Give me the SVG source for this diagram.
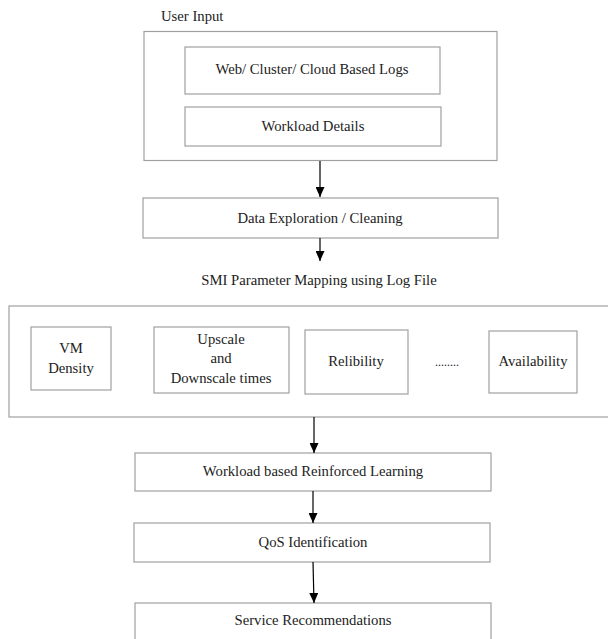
<svg xmlns="http://www.w3.org/2000/svg" width="608" height="639" viewBox="0 0 608 639">
<style>
  .box { fill: #ffffff; stroke: #a0a0a0; stroke-width: 1.2; }
  .t { font-family: 'Liberation Serif', 'DejaVu Serif', 'Times New Roman', serif; font-size: 14.7px; fill: #222222; text-anchor: middle; }
  .c { stroke: #000000; stroke-width: 1.2; fill: none; marker-end: url(#arr); }
</style>
<defs>
  <marker id="arr" markerWidth="10" markerHeight="9" refX="10" refY="4.5" orient="auto" markerUnits="userSpaceOnUse" viewBox="0 0 10 9">
    <path d="M0,0 L10,4.5 L0,9 Z" fill="#000000"/>
  </marker>
</defs>
<rect width="608" height="639" fill="#ffffff"/>

<g id="user-input">
  <text class="t" x="161" y="21" style="text-anchor:start">User Input</text>
  <rect class="box" x="144" y="31.5" width="353" height="129"/>
</g>
<g id="web-logs">
  <rect class="box" x="185" y="47" width="255" height="47"/>
  <text class="t" x="312" y="74">Web/ Cluster/ Cloud Based Logs</text>
</g>
<g id="workload-details">
  <rect class="box" x="185" y="107" width="256" height="39"/>
  <text class="t" x="313" y="131">Workload Details</text>
</g>
<g id="data-exploration">
  <rect class="box" x="143" y="198" width="355" height="40"/>
  <text class="t" x="320" y="223">Data Exploration / Cleaning</text>
</g>
<g id="smi-mapping">
  <text class="t" x="319" y="285">SMI Parameter Mapping using Log File</text>
  <rect class="box" x="9" y="306" width="610" height="111"/>
</g>
<g id="vm-density">
  <rect class="box" x="31" y="327" width="80" height="63"/>
  <text class="t" x="71" y="353">VM</text>
  <text class="t" x="71" y="373">Density</text>
</g>
<g id="upscale">
  <rect class="box" x="154" y="327" width="135" height="66"/>
  <text class="t" x="221" y="344">Upscale</text>
  <text class="t" x="221" y="363">and</text>
  <text class="t" x="221" y="383">Downscale times</text>
</g>
<g id="relibility">
  <rect class="box" x="305" y="330" width="103" height="64"/>
  <text class="t" x="356" y="366">Relibility</text>
</g>
<g id="dots">
  <text class="t" x="447" y="366" style="font-size:12px">........</text>
</g>
<g id="availability">
  <rect class="box" x="489" y="331" width="88" height="62"/>
  <text class="t" x="533" y="366">Availability</text>
</g>
<g id="reinforced-learning">
  <rect class="box" x="135" y="453" width="356" height="38"/>
  <text class="t" x="313" y="476">Workload based Reinforced Learning</text>
</g>
<g id="qos">
  <rect class="box" x="134" y="523" width="356" height="39"/>
  <text class="t" x="313" y="547">QoS Identification</text>
</g>
<g id="service-recommendations">
  <rect class="box" x="135" y="603" width="356" height="50"/>
  <text class="t" x="313" y="625">Service Recommendations</text>
</g>

<g id="connectors">
  <path class="c" d="M320,161 L320,197"/>
  <path class="c" d="M320,238 L320,261"/>
  <path class="c" d="M314,417 L314,453"/>
  <path class="c" d="M313,491 L313,523"/>
  <path class="c" d="M313,562 L314,603"/>
</g>
</svg>
